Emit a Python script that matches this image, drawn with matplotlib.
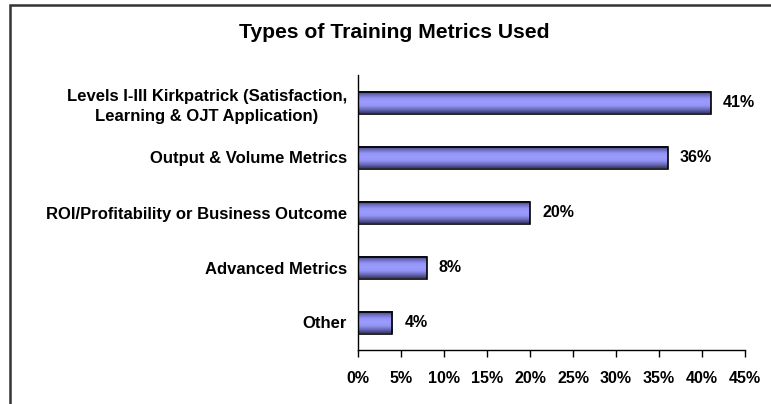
import numpy as np
import matplotlib.pyplot as plt
from matplotlib.patches import Rectangle
from matplotlib.ticker import FuncFormatter
from matplotlib.colors import LinearSegmentedColormap

plt.rcParams['font.family'] = ['Liberation Sans', 'DejaVu Sans']
plt.rcParams['font.weight'] = 'bold'

# data
categories = ["Levels I-III Kirkpatrick (Satisfaction,\nLearning & OJT Application)",
              "Output & Volume Metrics",
              "ROI/Profitability or Business Outcome",
              "Advanced Metrics",
              "Other"]
values = [41, 36, 20, 8, 4]
xticks = [0, 5, 10, 15, 20, 25, 30, 35, 40, 45]

fig = plt.figure(figsize=(7.71, 4.04), dpi=100)
ax = fig.add_axes([358 / 771, 1 - 350 / 404, 387 / 771, 275 / 404])

ypos = np.arange(len(categories))
bars = ax.barh(ypos, values, height=0.4, color='none', edgecolor='black',
               linewidth=1.2, zorder=3)

# cylinder-like shading
cmap = LinearSegmentedColormap.from_list(
    'cyl', ['#3c3c6e', '#6d6dc0', '#9494f5', '#9c9cff', '#9494f5', '#6d6dc0', '#3c3c6e'])
grad = np.linspace(0, 1, 64).reshape(-1, 1)
for b in bars:
    x0, y0 = b.get_x(), b.get_y()
    w, h = b.get_width(), b.get_height()
    ax.imshow(grad, cmap=cmap, aspect='auto', extent=(x0, x0 + w, y0 + h, y0),
              zorder=2, interpolation='bilinear')

for y, v in zip(ypos, values):
    ax.text(v + 1.4, y, f"{v}%", va='center', ha='left', fontsize=11.5, fontweight='bold')

ax.set_ylim(len(categories) - 0.5, -0.5)
ax.set_xlim(0, 45)
ax.set_xticks(xticks)
ax.xaxis.set_major_formatter(FuncFormatter(lambda x, p: f"{int(x)}%"))
ax.set_yticks(ypos)
ax.set_yticklabels(categories, fontsize=12, fontweight='bold')
for lab in ax.get_yticklabels():
    lab.set_multialignment('center')
    lab.set_linespacing(1.45)
ax.tick_params(axis='y', length=0, pad=8)
ax.tick_params(axis='x', length=5, width=1, pad=10, labelsize=11.5, direction='out')
for lab in ax.get_xticklabels():
    lab.set_fontweight('bold')

for s in ['top', 'right']:
    ax.spines[s].set_visible(False)
ax.spines['left'].set_linewidth(1)
ax.spines['bottom'].set_linewidth(1)

fig.text(394 / 771, 1 - 33 / 404, "Types of Training Metrics Used", ha='center',
         va='center', fontsize=15.2, fontweight='bold')

fig.patches.append(Rectangle((9.5 / 771, -0.05), 1.0, 1 - 4.5 / 404 + 0.05,
                             transform=fig.transFigure, fill=False,
                             edgecolor='#333333', linewidth=1.8))

fig.savefig("out.png", dpi=100)
